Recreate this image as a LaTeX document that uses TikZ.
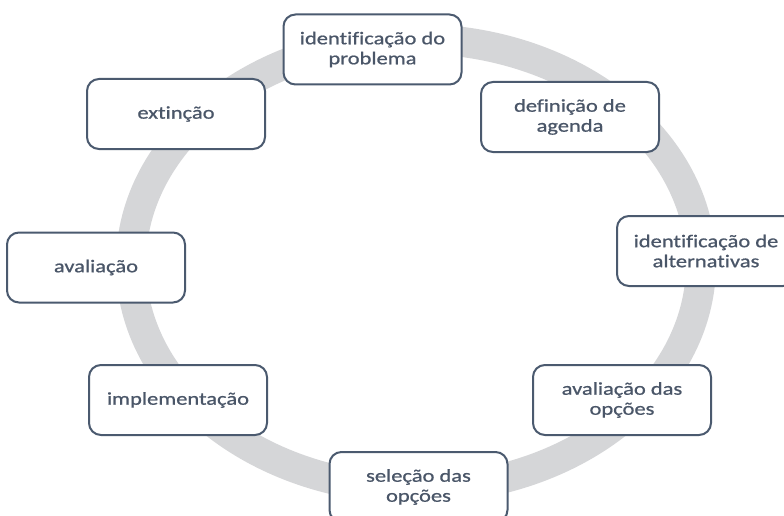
\documentclass[tikz,border=0pt]{standalone}
\usepackage{fontspec}
\setmainfont{Carlito}[FakeStretch=1.25, FakeBold=0.8, Ligatures=NoCommon]
\definecolor{ringc}{HTML}{D5D6D8}
\definecolor{bordc}{HTML}{4B5A6F}
\definecolor{textc}{HTML}{4A5668}
\tikzset{
  stagebox/.style={draw=bordc, line width=2pt, fill=white, rounded corners=12pt,
    minimum width=178pt, minimum height=70pt, inner sep=0pt, align=center,
    text=textc, font=\fontsize{18}{20}\selectfont},
  ringline/.style={draw=ringc, line width=30pt}
}
\begin{document}
\begin{tikzpicture}[x=1pt,y=-1pt]
\useasboundingbox (0,0) rectangle (784,516);
\clip (0,0) rectangle (784,516);
\fill[white] (0,0) rectangle (784,516);
\draw[ringline] (416,264) ellipse [x radius=285pt, y radius=225pt];
\node[stagebox] (n1) at (372.5,49.5) {identificação do\\problema};
\node[stagebox] (n2) at (570,117) {definição de\\agenda};
\node[stagebox] (n3) at (706,251) {identificação de\\alternativas};
\node[stagebox] (n4) at (622,400) {avaliação das\\opções};
\node[stagebox] (n5) at (418.5,487) {seleção das\\opções};
\node[stagebox] (n6) at (178,400) {implementação};
\node[stagebox] (n7) at (96,267.5) {avaliação};
\node[stagebox] (n8) at (176,114) {extinção};
\end{tikzpicture}
\end{document}
